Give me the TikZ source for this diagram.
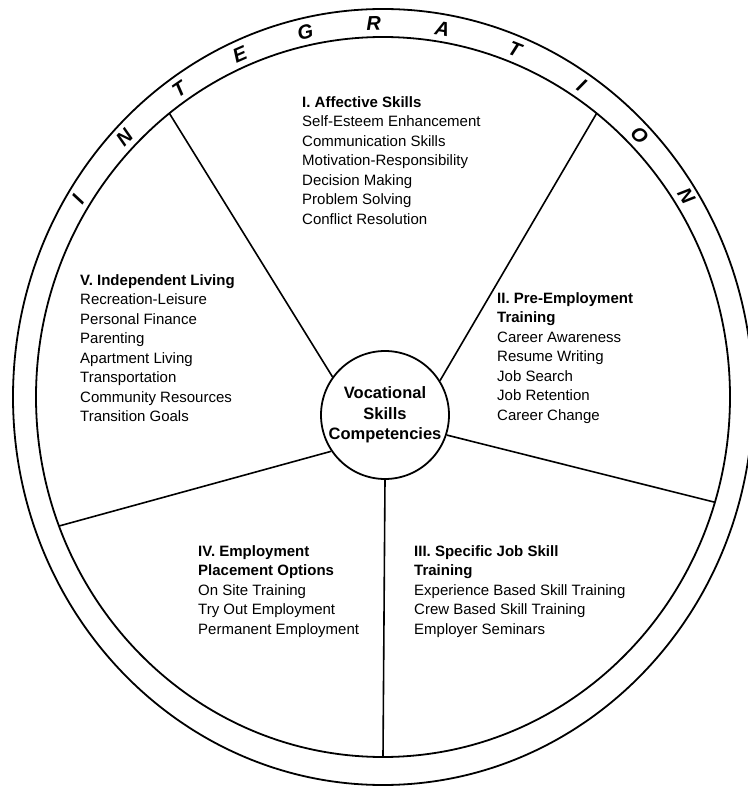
\documentclass[tikz,border=0pt]{standalone}
\usepackage{fontspec}
\setmainfont{Liberation Sans}
\usetikzlibrary{positioning,calc}

\begin{document}
\begin{tikzpicture}[x=1pt, y=1pt,
    ring/.style={line width=1.8pt},
    spoke/.style={line width=1.6pt},
    letter/.style={font=\fontsize{20}{20}\selectfont\bfseries\itshape, inner sep=0pt},
    blurb/.style={anchor=north west, align=left, inner sep=0pt, font=\fontsize{15}{19.5}\selectfont},
    hubtext/.style={circle, draw, line width=1.8pt, minimum size=128pt, inner sep=0pt, align=center, font=\fontsize{16.5}{20.5}\selectfont\bfseries}]

  \useasboundingbox (-383,-390) rectangle (364,397);

  \draw[ring] (0,0) ellipse [x radius=370, y radius=388];
  \draw[ring] (0,0) ellipse [x radius=347, y radius=360];

  \node[hubtext] (hub) at (2,-18) {Vocational\\Skills\\Competencies};

  \coordinate (rimA) at (128:347 and 360);
  \coordinate (rimB) at (52:347 and 360);
  \coordinate (rimC) at (-17:347 and 360);
  \coordinate (rimD) at (270:347 and 360);
  \coordinate (rimE) at (201:347 and 360);

  \draw[spoke] (hub.144) -- (rimA);
  \draw[spoke] (hub.32) -- (rimB);
  \draw[spoke] (hub.-18) -- (rimC);
  \draw[spoke] (hub.270) -- (rimD);
  \draw[spoke] (hub.214) -- (rimE);

  \node[letter, rotate=58] (ltrI) at (148:359.5 and 373.5) {I};
  \node[letter, rotate=46] (ltrN) at (136:359.5 and 373.5) {N};
  \node[letter, rotate=34.5] (ltrT) at (124.5:359.5 and 373.5) {T};
  \node[letter, rotate=23.5] (ltrE) at (113.5:359.5 and 373.5) {E};
  \node[letter, rotate=12.5] (ltrG) at (102.5:359.5 and 373.5) {G};
  \node[letter, rotate=1.5] (ltrR) at (91.5:359.5 and 373.5) {R};
  \node[letter, rotate=-9.5] (ltrA) at (80.5:359.5 and 373.5) {A};
  \node[letter, rotate=-21.5] (ltrTT) at (68.5:359.5 and 373.5) {T};
  \node[letter, rotate=-33.5] (ltrII) at (56.5:359.5 and 373.5) {I};
  \node[letter, rotate=-45.5] (ltrO) at (44.5:359.5 and 373.5) {O};
  \node[letter, rotate=-57.5] (ltrNN) at (32.5:359.5 and 373.5) {N};

  \node[blurb] (affect) at (-81,301) {\textbf{I. Affective Skills}\\Self-Esteem Enhancement\\Communication Skills\\Motivation-Responsibility\\Decision Making\\Problem Solving\\Conflict Resolution};
  \node[blurb] (preemp) at (114,105) {\textbf{II. Pre-Employment}\\\textbf{Training}\\Career Awareness\\Resume Writing\\Job Search\\Job Retention\\Career Change};
  \node[blurb] (jobskill) at (31,-148) {\textbf{III. Specific Job Skill}\\\textbf{Training}\\Experience Based Skill Training\\Crew Based Skill Training\\Employer Seminars};
  \node[blurb] (placement) at (-185,-148) {\textbf{IV. Employment}\\\textbf{Placement Options}\\On Site Training\\Try Out Employment\\Permanent Employment};
  \node[blurb] (living) at (-303,123) {\textbf{V. Independent Living}\\Recreation-Leisure\\Personal Finance\\Parenting\\Apartment Living\\Transportation\\Community Resources\\Transition Goals};
\end{tikzpicture}
\end{document}
